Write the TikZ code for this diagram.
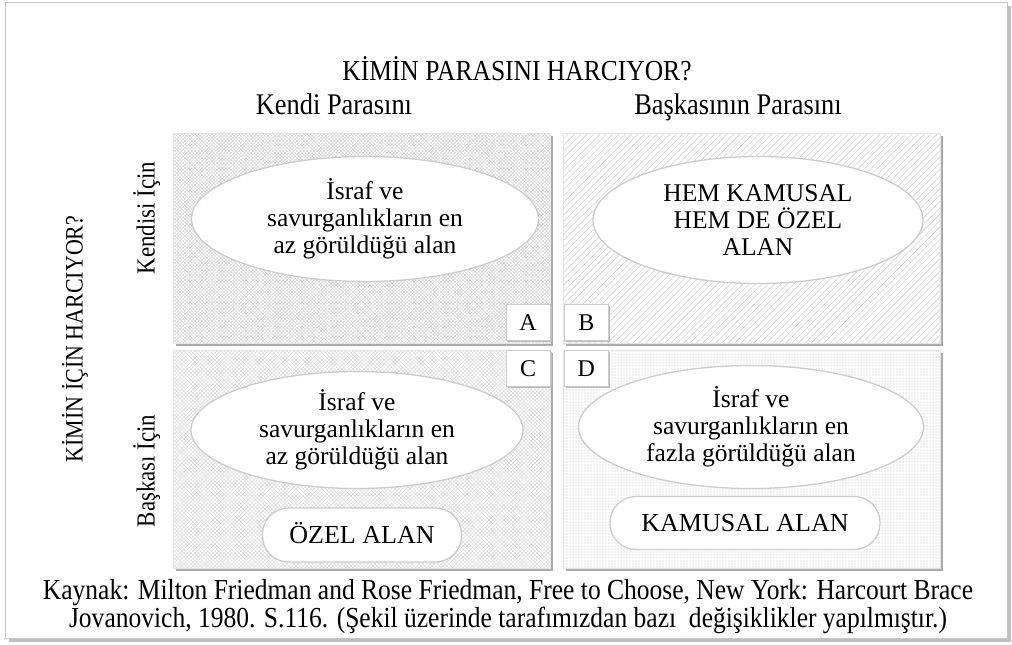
\documentclass[tikz,border=0pt]{standalone}
\usepackage{fontspec}
\setmainfont{Liberation Serif}
\newfontfamily\narrowserif[FakeStretch=0.88]{Liberation Serif}
\usetikzlibrary{shapes.geometric, patterns.meta, shadows, positioning, calc}

\newcommand{\txtsize}{\fontsize{25.5}{27}\selectfont}
\colorlet{edgegray}{gray!40}

\begin{document}
\begin{tikzpicture}[x=1pt, y=-1pt,
    quad/.style={rectangle, draw=gray!20, line width=0.6pt, anchor=north west, inner sep=0pt,
                 minimum width=377pt, preaction={drop shadow={shadow xshift=3pt, shadow yshift=-3pt, fill=gray!65, opacity=1}},
                 preaction={fill=white}},
    ell/.style={ellipse, draw=edgegray, line width=1.3pt, fill=white, inner sep=0pt, align=center, font=\txtsize},
    pill/.style={rectangle, rounded corners=26pt, draw=edgegray, line width=1.3pt, fill=white,
                 font=\fontsize{26}{28}\selectfont, text height=18pt, text depth=1pt},
    lbox/.style={rectangle, draw=edgegray, line width=0.8pt, fill=white, minimum width=44pt, minimum height=36pt,
                 inner sep=0pt, font=\fontsize{24}{26}\selectfont, text height=16pt, text depth=0pt,
                 drop shadow={shadow xshift=2pt, shadow yshift=-2pt, fill=gray!55, opacity=1}},
    label/.style={inner sep=1pt, align=center, text height=0.72em, text depth=0.22em}
]
    \useasboundingbox (0,0) rectangle (1012,645);
    % outer frame
    \path[fill=white, draw=gray!45, line width=1pt,
          drop shadow={shadow xshift=4pt, shadow yshift=-4pt, fill=gray!50, opacity=1}] (5,2) rectangle (1007,638);

    % headings
    \node[label, font=\narrowserif\fontsize{29}{30}\selectfont] (title) at (517,78) {KİMİN PARASINI HARCIYOR?};
    \node[label, font=\narrowserif\fontsize{30}{31}\selectfont] (own) at (334,112) {Kendi Parasını};
    \node[label, font=\narrowserif\fontsize{30}{31}\selectfont] (other) at (738,112) {Başkasının Parasını};
    \node[label, rotate=90, font=\narrowserif\fontsize{25}{26}\selectfont] (whom) at (80,339) {KİMİN İÇİN HARCIYOR?};
    \node[label, rotate=90, font=\narrowserif\fontsize{26}{27}\selectfont] (self) at (152,218) {Kendisi İçin};
    \node[label, rotate=90, font=\narrowserif\fontsize{26}{27}\selectfont] (else) at (152,471) {Başkası İçin};

    % quadrants
    \node[quad, minimum height=210pt, pattern={Lines[angle=-45, distance=2.4pt, line width=0.45pt]}, pattern color=gray!35,
          preaction={pattern={Lines[angle=45, distance=2.4pt, line width=0.45pt]}, pattern color=gray!35}] (qa) at (173,133) {};
    \node[quad, minimum height=210pt, pattern={Lines[angle=45, distance=4.5pt, line width=0.6pt]}, pattern color=gray!35] (qb) at (563,133) {};
    \node[quad, minimum height=218pt, pattern={Lines[angle=-45, distance=2.6pt, line width=0.45pt]}, pattern color=gray!30,
          preaction={pattern={Lines[angle=45, distance=2.6pt, line width=0.45pt]}, pattern color=gray!30}] (qc) at (173,350) {};
    \node[quad, minimum height=218pt, pattern={Dots[distance=3pt, radius=0.6pt]}, pattern color=gray!45] (qd) at (563,350) {};

    % corner letters
    \node[lbox, above left=3pt and 0pt of qa.south east] (la) {A};
    \node[lbox, above right=3pt and 1pt of qb.south west] (lb) {B};
    \node[lbox, below left=0pt and 0pt of qc.north east] (lc) {C};
    \node[lbox, below right=0pt and 1pt of qd.north west] (ld) {D};

    % areas
    \node[ell, minimum width=347pt, minimum height=125pt] (ea) at (365,219) {İsraf ve\\savurganlıkların en\\az görüldüğü alan};
    \node[ell, minimum width=330pt, minimum height=127pt] (eb) at (758,220) {HEM KAMUSAL\\HEM DE ÖZEL\\ALAN};
    \node[ell, minimum width=332pt, minimum height=117pt] (ec) at (357,430) {İsraf ve\\savurganlıkların en\\az görüldüğü alan};
    \node[ell, minimum width=345pt, minimum height=123pt] (ed) at (751,427) {İsraf ve\\savurganlıkların en\\fazla görüldüğü alan};
    \node[pill, minimum width=199pt, minimum height=54pt] (pc) at (362,535) {ÖZEL ALAN};
    \node[pill, minimum width=270pt, minimum height=53pt] (pd) at (745,523) {KAMUSAL ALAN};

    % source
    \node[inner sep=1pt, align=center, font=\narrowserif\fontsize{29}{28}\selectfont] (src) at (508,607)
        {Kaynak: Milton Friedman and Rose Friedman, Free to Choose, New York: Harcourt Brace\\
         Jovanovich, 1980. S.116. (Şekil üzerinde tarafımızdan bazı\ \ değişiklikler yapılmıştır.)};
\end{tikzpicture}
\end{document}
